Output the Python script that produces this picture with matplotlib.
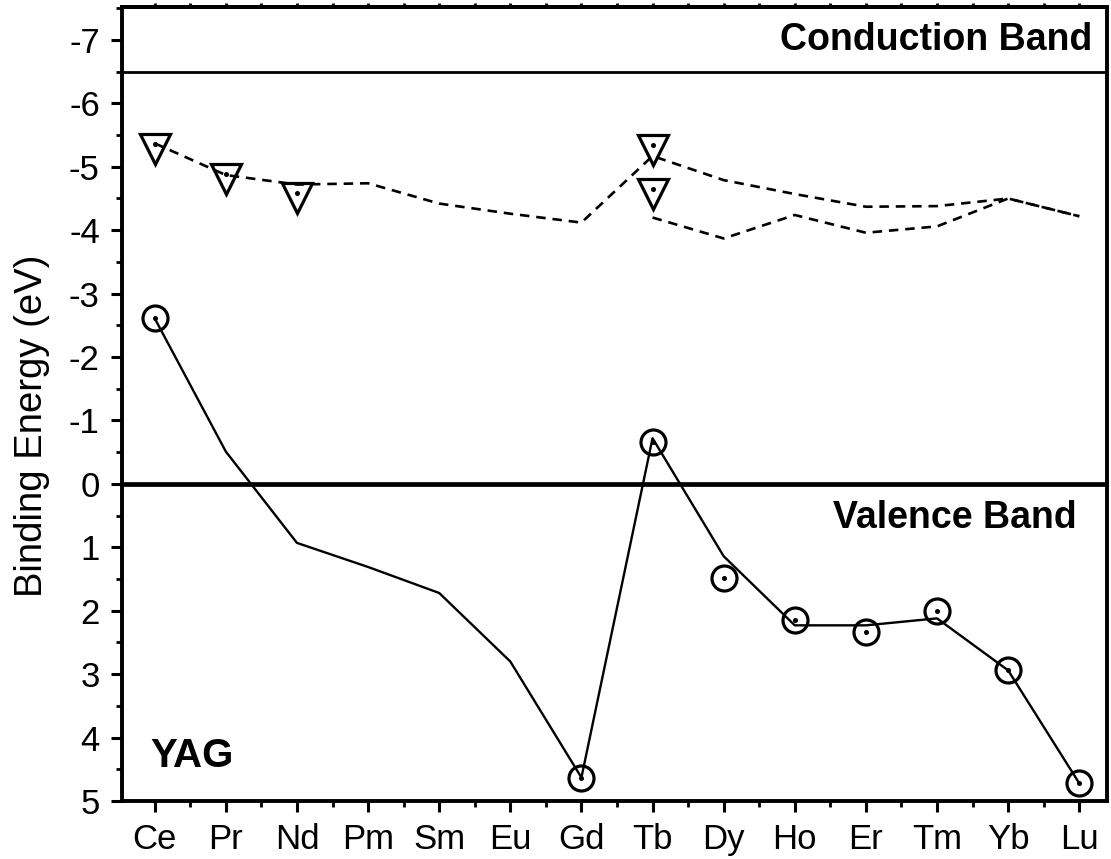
import matplotlib
matplotlib.use("Agg")
import matplotlib.pyplot as plt
from matplotlib.ticker import MultipleLocator, FixedLocator

plt.rcParams['font.family'] = ['Liberation Sans', 'DejaVu Sans']

elements = ["Ce", "Pr", "Nd", "Pm", "Sm", "Eu", "Gd", "Tb", "Dy", "Ho", "Er", "Tm", "Yb", "Lu"]

# ground-state 4f levels (solid line)
level_4f = [-2.61, -0.51, 0.93, 1.31, 1.72, 2.80, 4.63, -0.72, 1.14, 2.23, 2.23, 2.12, 2.94, 4.72]
# experimental 4f points (circles)
exp_4f_elems = ["Ce", "Gd", "Tb", "Dy", "Ho", "Er", "Tm", "Yb", "Lu"]
exp_4f_vals = [-2.61, 4.63, -0.66, 1.48, 2.14, 2.33, 2.01, 2.94, 4.72]

# lowest 5d levels (dashed lines)
level_5d_a = [-5.37, -4.87, -4.72, -4.74, -4.42, -4.26, -4.12, -5.17, -4.79, -4.57, -4.37, -4.38, -4.50, -4.22]
level_5d_b_elems = ["Tb", "Dy", "Ho", "Er", "Tm", "Yb", "Lu"]
level_5d_b = [-4.20, -3.87, -4.24, -3.96, -4.06, -4.50, -4.22]
# experimental 5d points (triangles)
exp_5d_elems = ["Ce", "Pr", "Nd", "Tb", "Tb"]
exp_5d_vals = [-5.28, -4.80, -4.50, -5.27, -4.57]

cb_level = -6.5
vb_level = 0.0

idx = {e: i for i, e in enumerate(elements)}

fig = plt.figure(figsize=(11.11, 8.59), dpi=100)
ax = fig.add_axes([0.1098, 0.0675, 0.8866, 0.9244])

x_all = list(range(len(elements)))
ax.axhline(cb_level, color='black', lw=2.0, zorder=1)
ax.axhline(vb_level, color='black', lw=3.4, zorder=1)

ax.plot(x_all, level_4f, color='black', lw=1.7, zorder=3)
ax.plot(x_all, level_5d_a, color='black', lw=1.9, ls=(0, (3.6, 2.6)), zorder=3)
ax.plot([idx[e] for e in level_5d_b_elems], level_5d_b, color='black', lw=1.9,
        ls=(0, (3.6, 2.6)), zorder=3)

xc = [idx[e] for e in exp_4f_elems]
ax.plot(xc, exp_4f_vals, ls='none', marker='o', ms=18, mfc='none', mec='black', mew=2.3, zorder=4)
ax.plot(xc, exp_4f_vals, ls='none', marker='o', ms=2.6, mfc='black', mec='black', zorder=4)

xt = [idx[e] for e in exp_5d_elems]
ax.plot(xt, exp_5d_vals, ls='none', marker='v', ms=21, mfc='none', mec='black', mew=2.3, zorder=4)
ax.plot(xt, [v - 0.08 for v in exp_5d_vals], ls='none', marker='o', ms=2.6, mfc='black', mec='black', zorder=4)

ax.set_xlim(-0.46, 13.39)
ax.set_ylim(5.0, -7.52)

ax.set_xticks(x_all)
ax.set_xticklabels(elements)
ax.xaxis.set_minor_locator(FixedLocator([i + 0.5 for i in range(-1, 14)]))
ax.set_yticks(list(range(-7, 6)))
ax.set_yticklabels([str(v) for v in range(-7, 6)])
ax.yaxis.set_minor_locator(MultipleLocator(0.5))

ax.tick_params(which='major', direction='out', length=8, width=2.2, labelsize=25, pad=8,
               top=False, right=False)
ax.tick_params(which='minor', direction='out', length=4, width=2.0, top=False, right=False)

sec = ax.secondary_xaxis('top')
sec.set_xticks(x_all)
sec.xaxis.set_minor_locator(FixedLocator([i + 0.5 for i in range(-1, 14)]))
sec.tick_params(which='both', direction='out', length=3, width=2.0, labeltop=False)
sec.spines['top'].set_linewidth(2.8)

for s in ax.spines.values():
    s.set_linewidth(2.8)

ax.set_ylabel("Binding Energy (eV)", fontsize=27.5)
ax.yaxis.set_label_coords(-0.073, 0.472)

ax.text(0.985, 0.946, "Conduction Band", transform=ax.transAxes, ha='right', va='baseline',
        fontsize=27, fontweight='bold')
ax.text(0.9695, 0.344, "Valence Band", transform=ax.transAxes, ha='right', va='baseline',
        fontsize=27, fontweight='bold')
ax.text(0.0284, 0.043, "YAG", transform=ax.transAxes, ha='left', va='baseline',
        fontsize=29, fontweight='bold')

fig.savefig("out.png", dpi=100)
